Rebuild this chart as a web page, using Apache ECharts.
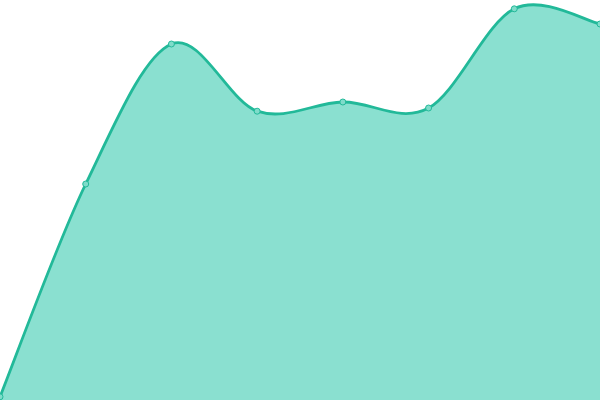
<!DOCTYPE html>
<html><head><meta charset="utf-8">
<script src="https://cdn.jsdelivr.net/npm/echarts@6/dist/echarts.min.js"></script>
<style>html,body{margin:0;padding:0;background:#fff}#c{width:600px;height:400px}</style>
</head><body><div id="c"></div>
<script>
const categories = ['A','B','C','D','E','F','G','H'];
const values = [0.8, 54, 89, 72.2, 74.5, 73, 97.8, 94];
const chart = echarts.init(document.getElementById('c'));

function renderCurve(params, api) {
  if (params.dataIndex !== 0) return null;
  const p = values.map((v, i) => api.coord([i, v]));
  const n = p.length;
  const get = i => p[Math.max(0, Math.min(n - 1, i))];
  let d = 'M' + p[0][0] + ',' + p[0][1];
  for (let i = 0; i < n - 1; i++) {
    const p0 = get(i - 1), p1 = get(i), p2 = get(i + 1), p3 = get(i + 2);
    const c1x = p1[0] + (p2[0] - p0[0]) / 6, c1y = p1[1] + (p2[1] - p0[1]) / 6;
    const c2x = p2[0] - (p3[0] - p1[0]) / 6, c2y = p2[1] - (p3[1] - p1[1]) / 6;
    d += 'C' + c1x + ',' + c1y + ',' + c2x + ',' + c2y + ',' + p2[0] + ',' + p2[1];
  }
  const b1 = api.coord([n - 1, 0]), b0 = api.coord([0, 0]);
  const area = d + 'L' + b1[0] + ',' + b1[1] + 'L' + b0[0] + ',' + b0[1] + 'Z';
  return {
    type: 'group',
    children: [
      {type: 'path', shape: {pathData: area}, style: {fill: '#8ae0d0', stroke: null}},
      {type: 'path', shape: {pathData: d}, style: {fill: null, stroke: '#22b999', lineWidth: 2.8}}
    ]
  };
}

chart.setOption({
  animation: false,
  grid: {left: 0, right: 0, top: 0, bottom: 0},
  xAxis: {type: 'category', data: categories, boundaryGap: false, show: false},
  yAxis: {type: 'value', min: 0, max: 100, show: false},
  series: [{
    type: 'custom',
    renderItem: renderCurve,
    data: [[0, 0]],
    clip: false,
    z: 1
  }, {
    type: 'scatter',
    data: values.map((v, i) => [i, v]),
    symbol: 'circle',
    symbolSize: 6,
    itemStyle: {color: '#7fdcca', borderColor: '#22b999', borderWidth: 1, opacity: 1},
    z: 3
  }]
});
</script></body></html>
